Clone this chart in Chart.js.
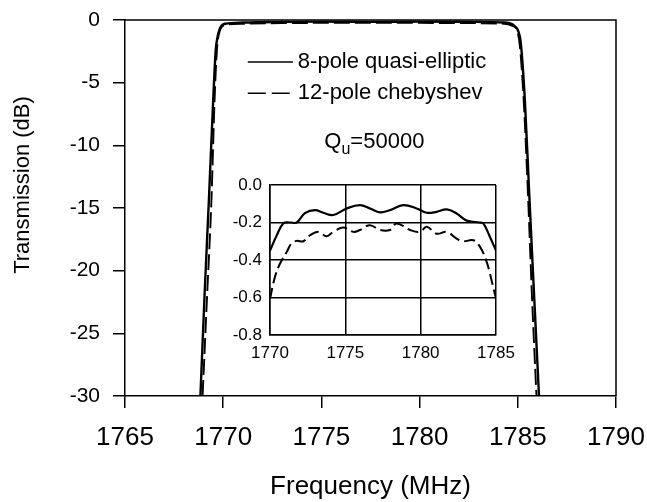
<html>

<head>
    <title>Transmission vs frequency</title>
    <script src="https://cdn.jsdelivr.net/npm/chart.js"></script>
    <style>
        body { margin: 0; background: #fff; }
        #wrap { position: relative; width: 647px; height: 502px; }
        #mainChart { position: absolute; left: 0; top: 0; }
        #insetChart { position: absolute; left: 220px; top: 172px; }
    </style>
</head>

<body>
    <div id="wrap">
        <canvas id="mainChart" width="647" height="502"></canvas>
        <canvas id="insetChart" width="300" height="195"></canvas>
    </div>

    <script>
        // main plot: 8-pole quasi-elliptic (solid)
        const freqElliptic = [1768.84, 1769.05, 1769.27, 1769.49, 1769.62, 1769.72, 1769.80, 1769.92, 1770.1,
            1771, 1773, 1775, 1777.5, 1780, 1782.5, 1784.3, 1784.68, 1784.85, 1785.0, 1785.15, 1785.36, 1785.58, 1785.8, 1786.08];
        const dbElliptic = [-30, -22, -14.4, -6.4, -2.4, -1.3, -0.8, -0.45, -0.3,
            -0.2, -0.15, -0.13, -0.15, -0.13, -0.15, -0.2, -0.3, -0.5, -0.8, -1.8, -6.4, -13.8, -21, -30];

        // main plot: 12-pole chebyshev (dashed)
        const freqCheby = [1768.95, 1769.18, 1769.40, 1769.56, 1769.68, 1769.84, 1770.1,
            1771, 1773, 1775, 1777.5, 1780, 1782.5, 1784.3, 1784.7, 1784.95, 1785.1, 1785.3, 1785.52, 1785.72, 1785.95];
        const dbCheby = [-30, -22, -14.4, -6.4, -2.4, -0.8, -0.4,
            -0.3, -0.25, -0.23, -0.22, -0.23, -0.25, -0.3, -0.45, -0.8, -2, -6.4, -14, -22, -30];

        // inset (passband detail)
        const insetFreqElliptic = [1770, 1770.44, 1770.88, 1771.33, 1771.77, 1772.32, 1772.99, 1773.54, 1774.2,
            1775.09, 1775.97, 1776.64, 1777.3, 1777.96, 1778.85, 1779.73, 1780.4, 1781.06, 1781.73, 1782.39,
            1783.05, 1783.94, 1784.16, 1784.6, 1785];
        const insetDbElliptic = [-0.35, -0.27, -0.205, -0.2, -0.2, -0.15, -0.134, -0.148, -0.16,
            -0.125, -0.107, -0.125, -0.146, -0.134, -0.107, -0.125, -0.148, -0.143, -0.13, -0.152,
            -0.19, -0.2, -0.205, -0.277, -0.35];
        const insetFreqCheby = [1770, 1770.33, 1770.66, 1771.11, 1771.44, 1771.77, 1772.21, 1772.65, 1773.21,
            1773.76, 1774.2, 1774.87, 1775.53, 1775.97, 1776.64, 1777.3, 1777.96, 1778.41, 1779.29, 1779.96,
            1780.4, 1781.06, 1781.73, 1782.39, 1782.83, 1783.5, 1783.94, 1784.38, 1784.71, 1785];
        const insetDbCheby = [-0.607, -0.49, -0.42, -0.357, -0.31, -0.298, -0.30, -0.268, -0.25,
            -0.273, -0.25, -0.227, -0.25, -0.24, -0.214, -0.24, -0.24, -0.205, -0.24, -0.25,
            -0.223, -0.26, -0.25, -0.286, -0.30, -0.295, -0.33, -0.41, -0.51, -0.607];

        // tick labels
        const mainXTicks = [1765, 1770, 1775, 1780, 1785, 1790];
        const mainYTicks = [0, -5, -10, -15, -20, -25, -30];
        const insetXTicks = [1770, 1775, 1780, 1785];
        const insetYTicks = [0, -0.2, -0.4, -0.6, -0.8];

        const seriesNames = ['8-pole quasi-elliptic', '12-pole chebyshev'];

        const family = '"Liberation Sans", Arial, sans-serif';

        function toPoints(xs, ys) {
            return xs.map((x, i) => ({ x: x, y: ys[i] }));
        }

        // draws the top/right frame, the y title and the in-plot legend
        const extras = {
            id: 'extras',
            afterDraw(chart) {
                const ctx = chart.ctx;
                const a = chart.chartArea;
                const xs = chart.scales.x;
                const ys = chart.scales.y;
                ctx.save();
                ctx.strokeStyle = '#000';
                ctx.lineWidth = 1.5;
                ctx.beginPath();
                ctx.moveTo(a.left, a.top);
                ctx.lineTo(a.right, a.top);
                ctx.lineTo(a.right, a.bottom);
                ctx.stroke();

                // y axis title
                ctx.fillStyle = '#000';
                ctx.font = '22px ' + family;
                ctx.textAlign = 'center';
                ctx.textBaseline = 'middle';
                ctx.translate(23, 185);
                ctx.rotate(-Math.PI / 2);
                ctx.fillText('Transmission (dB)', 0, 0);
                ctx.restore();

                // legend
                ctx.save();
                const x0 = xs.getPixelForValue(1771.25);
                const x1 = xs.getPixelForValue(1773.55);
                const tx = xs.getPixelForValue(1773.8);
                const row1 = ys.getPixelForValue(-3.35);
                const row2 = ys.getPixelForValue(-5.85);
                ctx.strokeStyle = '#000';
                ctx.lineWidth = 1.5;
                ctx.beginPath();
                ctx.moveTo(x0, row1);
                ctx.lineTo(x1, row1);
                ctx.stroke();
                ctx.setLineDash([18, 6]);
                ctx.beginPath();
                ctx.moveTo(x0, row2);
                ctx.lineTo(x1, row2);
                ctx.stroke();
                ctx.setLineDash([]);
                ctx.fillStyle = '#000';
                ctx.font = '22px ' + family;
                ctx.textAlign = 'left';
                ctx.textBaseline = 'middle';
                ctx.fillText(seriesNames[0], tx, row1);
                ctx.fillText(seriesNames[1], tx, row2);

                // Q_u label
                const qx = xs.getPixelForValue(1775.15);
                const qy = ys.getPixelForValue(-9.75);
                ctx.fillText('Q', qx, qy);
                const qw = ctx.measureText('Q').width;
                ctx.font = '16px ' + family;
                ctx.fillText('u', qx + qw, qy + 7);
                const uw = ctx.measureText('u').width;
                ctx.font = '22px ' + family;
                ctx.fillText('=50000', qx + qw + uw, qy);
                ctx.restore();
            }
        };

        const mainConfig = {
            type: 'line',
            data: {
                datasets: [
                    {
                        label: seriesNames[0],
                        data: toPoints(freqElliptic, dbElliptic),
                        borderColor: '#000',
                        borderWidth: 2.4,
                        pointRadius: 0,
                        cubicInterpolationMode: 'monotone'
                    },
                    {
                        label: seriesNames[1],
                        data: toPoints(freqCheby, dbCheby),
                        borderColor: '#000',
                        borderWidth: 1.9,
                        borderDash: [16, 5],
                        pointRadius: 0,
                        cubicInterpolationMode: 'monotone'
                    }
                ]
            },
            options: {
                responsive: false,
                animation: false,
                devicePixelRatio: 1,
                layout: { padding: { left: 0, top: 20, right: 31, bottom: 0 } },
                plugins: { legend: { display: false }, tooltip: { enabled: false } },
                scales: {
                    x: {
                        type: 'linear',
                        min: 1765,
                        max: 1790,
                        afterBuildTicks: s => { s.ticks = mainXTicks.map(v => ({ value: v })); },
                        afterFit: s => { s.height = 106; s.paddingLeft = 0; s.paddingRight = 0; },
                        grid: { drawOnChartArea: false, tickLength: 12, color: '#000', lineWidth: 1.5 },
                        border: { color: '#000', width: 1.5 },
                        ticks: {
                            color: '#000', font: { family: family, size: 26 }, padding: 14,
                            maxRotation: 0, autoSkip: false, callback: v => String(v)
                        },
                        title: {
                            display: true, text: 'Frequency (MHz)', color: '#000',
                            font: { family: family, size: 26 }, padding: 0
                        }
                    },
                    y: {
                        type: 'linear',
                        min: -30,
                        max: 0,
                        afterBuildTicks: s => { s.ticks = mainYTicks.map(v => ({ value: v })); },
                        afterFit: s => { s.width = 125; s.paddingTop = 0; s.paddingBottom = 0; },
                        grid: { drawOnChartArea: false, tickLength: 12, color: '#000', lineWidth: 1.5 },
                        border: { color: '#000', width: 1.5 },
                        ticks: {
                            color: '#000', font: { family: family, size: 21 }, padding: 13,
                            autoSkip: false, callback: v => String(v)
                        }
                    }
                }
            },
            plugins: [extras]
        };

        const insetConfig = {
            type: 'line',
            data: {
                datasets: [
                    {
                        label: seriesNames[0],
                        data: toPoints(insetFreqElliptic, insetDbElliptic),
                        borderColor: '#000',
                        borderWidth: 2.2,
                        pointRadius: 0,
                        tension: 0.4
                    },
                    {
                        label: seriesNames[1],
                        data: toPoints(insetFreqCheby, insetDbCheby),
                        borderColor: '#000',
                        borderWidth: 2,
                        borderDash: [11, 5],
                        pointRadius: 0,
                        tension: 0.4
                    }
                ]
            },
            options: {
                responsive: false,
                animation: false,
                devicePixelRatio: 1,
                layout: { padding: { left: 0, top: 13, right: 24, bottom: 0 } },
                plugins: { legend: { display: false }, tooltip: { enabled: false } },
                scales: {
                    x: {
                        type: 'linear',
                        min: 1770,
                        max: 1785,
                        afterBuildTicks: s => { s.ticks = insetXTicks.map(v => ({ value: v })); },
                        afterFit: s => { s.height = 32; s.paddingLeft = 0; s.paddingRight = 0; },
                        grid: { drawTicks: false, color: '#000', lineWidth: 1.5 },
                        border: { color: '#000', width: 1.5 },
                        ticks: {
                            color: '#000', font: { family: family, size: 17 }, padding: 8,
                            maxRotation: 0, autoSkip: false, callback: v => String(v)
                        }
                    },
                    y: {
                        type: 'linear',
                        min: -0.8,
                        max: 0,
                        afterBuildTicks: s => { s.ticks = insetYTicks.map(v => ({ value: v })); },
                        afterFit: s => { s.width = 50; s.paddingTop = 0; s.paddingBottom = 0; },
                        grid: { drawTicks: false, color: '#000', lineWidth: 1.5 },
                        border: { color: '#000', width: 1.5 },
                        ticks: {
                            color: '#000', font: { family: family, size: 17 }, padding: 8,
                            autoSkip: false, callback: v => Number(v).toFixed(1)
                        }
                    }
                }
            }
        };

        new Chart(document.getElementById('mainChart'), mainConfig);
        new Chart(document.getElementById('insetChart'), insetConfig);
    </script>
</body>

</html>
